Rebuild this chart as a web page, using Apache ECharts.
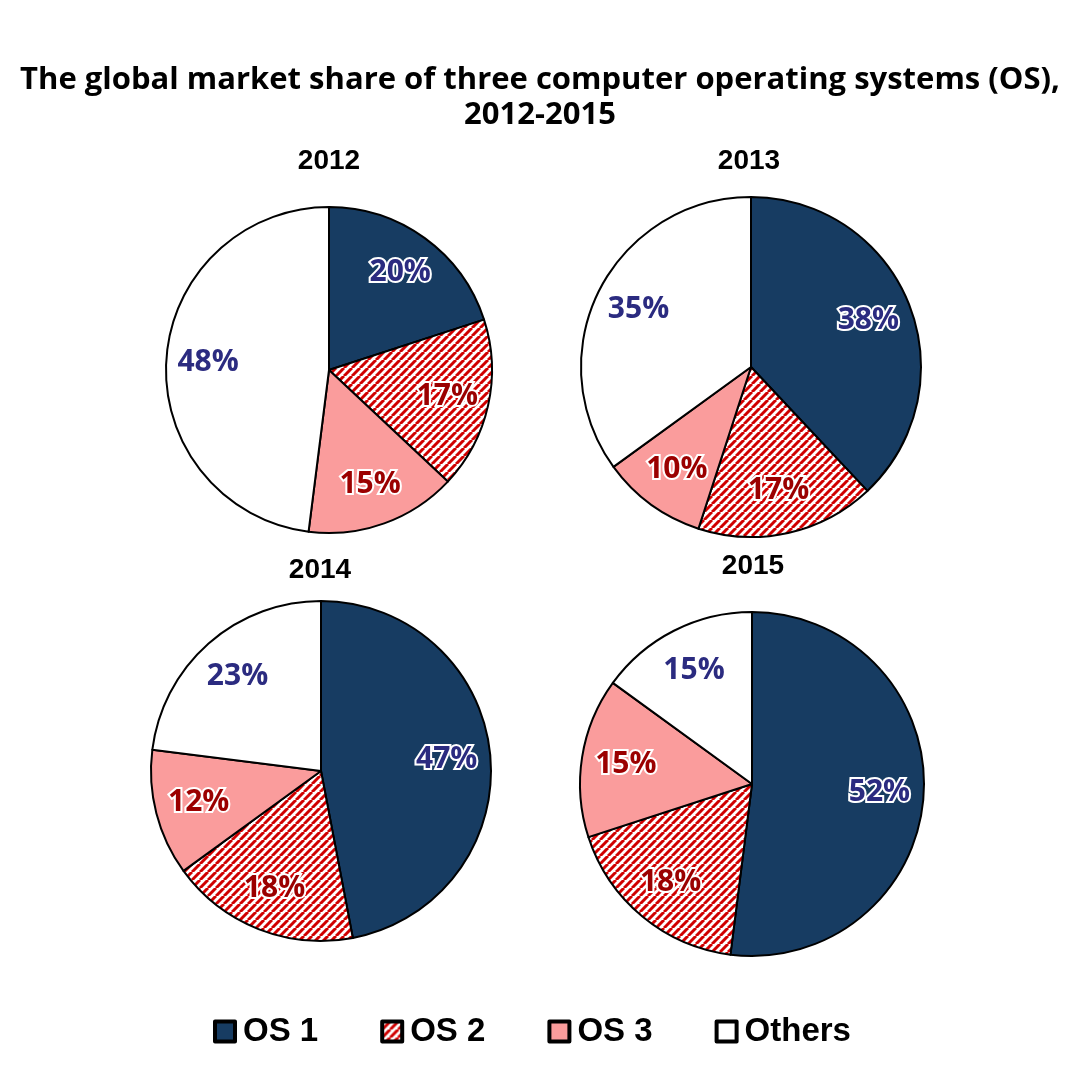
<!DOCTYPE html>
<html>
<head>
<meta charset="utf-8">
<script src="https://cdn.jsdelivr.net/npm/echarts@6/dist/echarts.min.js"></script>
<style>html,body{margin:0;padding:0;background:#fff}#c{width:1080px;height:1080px}</style>
</head>
<body>
<div id="c"></div>
<script>
const categories = ['OS 1', 'OS 2', 'OS 3', 'Others'];
const years = ['2012', '2013', '2014', '2015'];
const share2012 = [20, 17, 15, 48];
const share2013 = [38, 17, 10, 35];
const share2014 = [47, 18, 12, 23];
const share2015 = [52, 18, 15, 15];
const shares = [share2012, share2013, share2014, share2015];

// layout (px)
const pieCenters = [[329, 370], [751, 367], [321, 771], [752, 784]];
const pieRadii = [163, 170, 170, 172];
const yearLabelPos = [[329, 161], [749, 161], [320, 570], [753, 566]];

// hatch pattern for OS 2
const tile = document.createElement('canvas');
tile.width = 8; tile.height = 8;
const g = tile.getContext('2d');
g.fillStyle = '#ffffff'; g.fillRect(0, 0, 8, 8);
g.strokeStyle = '#d00000'; g.lineWidth = 3;
for (const k of [-8, 0, 8]) { g.beginPath(); g.moveTo(k, 8); g.lineTo(k + 8, 0); g.stroke(); }
const hatch = { image: tile, repeat: 'repeat' };

const fills = ['#173c62', hatch, '#fa9c9c', '#ffffff'];
const labelColors = ['#2b2b80', '#9b0000', '#9b0000', '#2b2b80'];

const series = [];
shares.forEach((vals, i) => {
  const data = categories.map((c, j) => ({ name: c, value: vals[j], itemStyle: { color: fills[j] } }));
  series.push({
    type: 'pie', center: pieCenters[i], radius: [0, pieRadii[i]],
    startAngle: 90, clockwise: true, silent: true,
    itemStyle: { borderColor: '#000', borderWidth: 2 },
    label: { show: false }, labelLine: { show: false },
    emphasis: { disabled: true },
    data: data
  });
  // transparent overlay used only to place labels at ~0.72 r
  series.push({
    type: 'pie', center: pieCenters[i], radius: [0, pieRadii[i] * 1.45],
    startAngle: 90, clockwise: true, silent: true,
    itemStyle: { color: 'rgba(0,0,0,0)', borderWidth: 0 },
    labelLine: { show: false },
    emphasis: { disabled: true },
    label: {
      show: true, position: 'inside',
      formatter: p => p.value + '%',
      fontFamily: 'Open Sans', fontWeight: 'bold', fontSize: 30,
      textBorderColor: '#fff', textBorderWidth: 4
    },
    data: categories.map((c, j) => ({ name: c, value: vals[j], label: { color: labelColors[j] } }))
  });
});

const chart = echarts.init(document.getElementById('c'), null, { renderer: 'canvas' });
chart.setOption({
  backgroundColor: '#ffffff',
  animation: false,
  title: {
    text: 'The global market share of three computer operating systems (OS),\n2012-2015',
    left: 'center', top: 58,
    textStyle: { fontFamily: 'Open Sans', fontWeight: 'bold', fontSize: 31, lineHeight: 35, color: '#000' }
  },
  legend: {
    data: categories,
    left: 208, top: 1010,
    itemWidth: 20, itemHeight: 20, itemGap: 62,
    icon: 'rect',
    selectedMode: false,
    itemStyle: { borderColor: '#000', borderWidth: 4 },
    textStyle: { fontFamily: 'Liberation Sans', fontWeight: 'bold', fontSize: 33, color: '#000', padding: [0, 0, 0, 3] }
  },
  graphic: years.map((y, i) => ({
    type: 'text', x: yearLabelPos[i][0], y: yearLabelPos[i][1],
    style: { text: y, textAlign: 'center', textVerticalAlign: 'middle',
      font: 'bold 28px "Liberation Sans"', fill: '#000' }
  })),
  series: series
});
</script>
</body>
</html>
